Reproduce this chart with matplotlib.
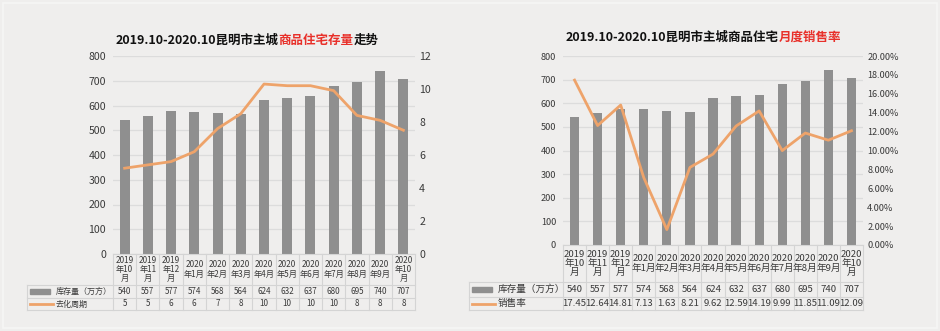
import matplotlib
matplotlib.use('Agg')
import matplotlib.pyplot as plt
from matplotlib.transforms import blended_transform_factory
from matplotlib.patches import Rectangle
from matplotlib.lines import Line2D
from matplotlib.ticker import FuncFormatter

plt.rcParams['font.family'] = ['Noto Sans CJK SC', 'DejaVu Sans']

# data
months = ['2019\n年10\n月', '2019\n年11\n月', '2019\n年12\n月',
          '2020\n年1月', '2020\n年2月', '2020\n年3月', '2020\n年4月',
          '2020\n年5月', '2020\n年6月', '2020\n年7月', '2020\n年8月',
          '2020\n年9月', '2020\n年10\n月']
stock = [540, 557, 577, 574, 568, 564, 624, 632, 637, 680, 695, 740, 707]
# the drawn line is smoother than the rounded table values
cycle_line = [5.2, 5.4, 5.6, 6.2, 7.6, 8.5, 10.3, 10.2, 10.2, 9.9, 8.4, 8.1, 7.5]
cycle_table = [5, 5, 6, 6, 7, 8, 10, 10, 10, 10, 8, 8, 8]
sales_rate = [17.45, 12.64, 14.81, 7.13, 1.63, 8.21, 9.62, 12.59, 14.19,
              9.99, 11.85, 11.09, 12.09]

stock_name = '库存量（万方）'
cycle_name = '去化周期'
rate_name = '销售率'
title_left = [('2019.10-2020.10昆明市主城', '#111111'), ('商品住宅存量', '#e8302a'), ('走势', '#111111')]
title_right = [('2019.10-2020.10昆明市主城商品住宅', '#111111'), ('月度销售率', '#e8302a')]

W, H = 940, 331
BG = '#efeeed'
BAR = '#8f8f8f'
LINE = '#eea36a'
GRID = '#dcdcdc'
TXT = '#3a3a3a'

fig = plt.figure(figsize=(W / 100, H / 100), dpi=100)
fig.patch.set_facecolor(BG)
# faint lighter frame round the picture
fig.add_artist(Rectangle((3 / W, 3 / H), (W - 6) / W, (H - 6) / H, transform=fig.transFigure,
						 fill=False, edgecolor='#f6f6f5', lw=1.2))


def colored_title(cx, cy, parts, size):
	r = fig.canvas.get_renderer()
	texts = [fig.text(0, 1 - cy / H, s, color=c, fontsize=size, fontweight='bold',
					  va='center', ha='left') for s, c in parts]
	widths = [t.get_window_extent(r).width for t in texts]
	x = cx - sum(widths) / 2
	for t, w in zip(texts, widths):
		t.set_position((x / W, 1 - cy / H))
		x += w


def panel(x0, x1, ytop, ybot, rows, leg_x, line_vals, y2lim, y2ticks, y2fmt,
		  line_name, line_cells, tick_fs, cell_fs, cat_fs, bar_w):
	ax = fig.add_axes([x0 / W, 1 - ybot / H, (x1 - x0) / W, (ybot - ytop) / H])
	ax.set_facecolor('none')
	xs = range(len(stock))
	ax.bar(xs, stock, width=bar_w, color=BAR, zorder=2)
	ax.set_xlim(-0.5, len(stock) - 0.5)
	ax.set_ylim(0, 800)
	ax.set_yticks(range(0, 801, 100))
	ax.set_xticks([])
	ax.yaxis.grid(True, color=GRID, lw=0.9)
	ax.set_axisbelow(True)
	for s in ax.spines.values():
		s.set_visible(False)
	ax.tick_params(axis='y', length=0, labelsize=tick_fs, labelcolor=TXT, pad=5)

	ax2 = ax.twinx()
	ax2.plot(xs, line_vals, color=LINE, lw=2, zorder=3)
	ax2.set_ylim(*y2lim)
	ax2.set_yticks(y2ticks)
	ax2.yaxis.set_major_formatter(FuncFormatter(y2fmt))
	for s in ax2.spines.values():
		s.set_visible(False)
	ax2.tick_params(axis='y', length=0, labelsize=tick_fs, labelcolor=TXT, pad=3)

	# table under the plot
	hpx = ybot - ytop
	wpx = x1 - x0
	fy = lambda py: (ybot - py) / hpx
	fx = lambda px: (px - x0) / wpx
	trans = blended_transform_factory(ax.transData, ax.transAxes)
	r0, r1, r2, r3 = rows
	kw = dict(color='#d4d4d4', lw=0.8, clip_on=False)
	for k in range(len(stock) + 1):
		ax.add_line(Line2D([k - 0.5, k - 0.5], [fy(r0), fy(r3)], transform=trans, **kw))
	ax.add_line(Line2D([fx(leg_x), fx(leg_x)], [fy(r1), fy(r3)], transform=ax.transAxes, **kw))
	for r in (r1, r2, r3):
		ax.add_line(Line2D([fx(leg_x), 1], [fy(r), fy(r)], transform=ax.transAxes, **kw))
	ax.add_line(Line2D([0, 1], [fy(r0), fy(r0)], transform=ax.transAxes, **kw))

	for i, m in enumerate(months):
		ax.text(i, fy((r0 + r1) / 2), m, transform=trans, ha='center', va='center',
				fontsize=cat_fs, color=TXT, linespacing=1.05, clip_on=False)
		ax.text(i, fy((r1 + r2) / 2), str(stock[i]), transform=trans, ha='center',
				va='center', fontsize=cell_fs, color=TXT, clip_on=False)
		ax.text(i, fy((r2 + r3) / 2), line_cells[i], transform=trans, ha='center',
				va='center', fontsize=cell_fs, color=TXT, clip_on=False)

	# legend keys in the first column
	ax.add_patch(Rectangle((fx(leg_x + 3), fy((r1 + r2) / 2) - 2.5 / hpx), 20 / wpx, 5 / hpx,
						   transform=ax.transAxes, color=BAR, clip_on=False))
	ax.text(fx(leg_x + 29), fy((r1 + r2) / 2), stock_name, transform=ax.transAxes,
			ha='left', va='center', fontsize=cell_fs, color=TXT)
	ax.add_line(Line2D([fx(leg_x + 3), fx(leg_x + 26)], [fy((r2 + r3) / 2)] * 2,
					   transform=ax.transAxes, color=LINE, lw=2, clip_on=False))
	ax.text(fx(leg_x + 29), fy((r2 + r3) / 2), line_name, transform=ax.transAxes,
			ha='left', va='center', fontsize=cell_fs, color=TXT)
	return ax


panel(113, 415, 56, 254, (254, 285, 298, 310), 27, cycle_line, (0, 12), range(0, 13, 2),
	  lambda v, p: '%d' % v, cycle_name, [str(v) for v in cycle_table],
	  7.6, 5.8, 5.9, 0.43)
panel(563, 863, 56, 245, (245, 282, 297, 310), 469, sales_rate, (0, 20), range(0, 21, 2),
	  lambda v, p: '%.2f%%' % v, rate_name, ['%.2f' % v for v in sales_rate],
	  6.6, 6.9, 6.9, 0.4)

colored_title(247, 40, title_left, 9.0)
colored_title(703, 37, title_right, 9.0)

fig.savefig('out.png', dpi=100, facecolor=BG)
